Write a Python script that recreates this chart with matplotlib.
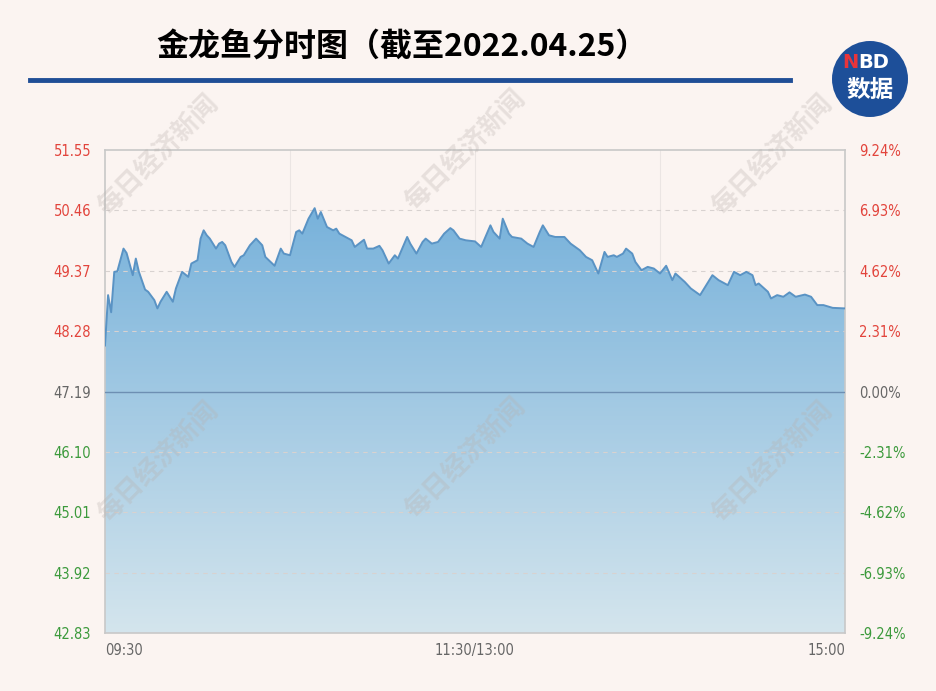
import numpy as np
import matplotlib
matplotlib.use("Agg")
import matplotlib.pyplot as plt
from matplotlib.patches import Circle, Polygon

plt.rcParams['font.family'] = ['Noto Sans CJK SC', 'DejaVu Sans']

# minutes since 09:30 (lunch break removed, 240 trading minutes)
minutes = [0, 1, 2, 3, 4, 6, 7, 9, 10, 11, 13, 14, 16, 17, 18, 20, 22, 23, 25, 27,
           28, 30, 31, 32, 33, 34, 36, 37, 38, 39, 41, 42, 44, 45, 47, 49, 51, 52, 55, 57,
           58, 60, 62, 63, 64, 66, 68, 69, 70, 72, 74, 75, 76, 78, 80, 81, 84, 85, 87, 89,
           90, 92, 94, 95, 98, 99, 101, 103, 104, 106, 108, 110, 112, 113, 115, 117, 120, 122, 125, 126,
           128, 129, 131, 132, 135, 137, 139, 141, 142, 144, 146, 149, 151, 154, 156, 158, 160, 162, 163, 165,
           166, 168, 169, 171, 172, 174, 176, 178, 180, 182, 184, 185, 188, 190, 193, 195, 197, 199, 202, 204,
           206, 208, 210, 211, 212, 215, 216, 218, 220, 222, 224, 227, 229, 231, 233, 236, 240]
prices = [48.02, 48.93, 48.62, 49.35, 49.36, 49.77, 49.69, 49.29, 49.59, 49.35, 49.03, 48.99, 48.84, 48.69, 48.81, 48.99, 48.81, 49.05, 49.35, 49.26,
          49.50, 49.56, 49.95, 50.10, 50.01, 49.95, 49.77, 49.86, 49.89, 49.83, 49.53, 49.44, 49.62, 49.65, 49.83, 49.95, 49.83, 49.62, 49.46, 49.77,
          49.68, 49.65, 50.07, 50.10, 50.04, 50.31, 50.50, 50.31, 50.43, 50.16, 50.10, 50.13, 50.04, 49.98, 49.92, 49.80, 49.93, 49.77, 49.77, 49.82,
          49.74, 49.50, 49.65, 49.59, 49.98, 49.86, 49.68, 49.89, 49.95, 49.86, 49.89, 50.04, 50.14, 50.10, 49.95, 49.92, 49.90, 49.80, 50.19, 50.07,
          49.95, 50.31, 50.04, 49.98, 49.95, 49.86, 49.80, 50.07, 50.19, 50.01, 49.98, 49.98, 49.86, 49.74, 49.62, 49.56, 49.32, 49.71, 49.62, 49.65,
          49.62, 49.68, 49.77, 49.68, 49.53, 49.38, 49.44, 49.41, 49.32, 49.46, 49.20, 49.32, 49.17, 49.05, 48.93, 49.11, 49.29, 49.20, 49.11, 49.35,
          49.29, 49.35, 49.29, 49.11, 49.14, 48.99, 48.87, 48.93, 48.90, 48.98, 48.90, 48.94, 48.90, 48.75, 48.75, 48.70, 48.69]

pre_close = 47.19
price_ticks = [42.83, 43.92, 45.01, 46.10, 47.19, 48.28, 49.37, 50.46, 51.55]
pct_labels = ["-9.24%", "-6.93%", "-4.62%", "-2.31%", "0.00%", "2.31%", "4.62%", "6.93%", "9.24%"]
x_ticks = [0, 120, 240]
x_labels = ["09:30", "11:30/13:00", "15:00"]
title = "金龙鱼分时图（截至2022.04.25）"
watermark = "每日经济新闻"

bg = "#fbf4f1"
red = "#e2443c"
green = "#3c9a3c"
grey = "#666666"
narrow = dict(family="DejaVu Sans", stretch="condensed")

fig = plt.figure(figsize=(9.37, 6.91), dpi=100, facecolor=bg)
ax = fig.add_axes([105/937, (691-633)/691, 740/937, (633-150)/691])
ax.set_facecolor(bg)
ax.set_xlim(0, 240)
ax.set_ylim(price_ticks[0], price_ticks[-1])

# gradient fill under the line
x = np.array(minutes, dtype=float)
y = np.array(prices)
verts = np.column_stack([np.r_[x, x[-1], x[0]], np.r_[y, price_ticks[0], price_ticks[0]]])
poly = Polygon(verts, closed=True, facecolor="none", edgecolor="none")
ax.add_patch(poly)
top = np.array([120, 178, 219]) / 255
bot = np.array([212, 229, 237]) / 255
t = np.linspace(0, 1, 256)[:, None]
grad = (top * (1 - t) + bot * t).reshape(256, 1, 3)
im = ax.imshow(grad, extent=[0, 240, price_ticks[0], max(prices)], aspect="auto",
               origin="upper", zorder=1, interpolation="bilinear")
im.set_clip_path(poly)
ax.plot(x, y, color="#5a93c4", lw=1.4, zorder=3)

# grid
for p in price_ticks[1:-1]:
    if p == pre_close:
        ax.axhline(p, color="#6d8fb3", lw=1.0, zorder=4)
    else:
        ax.axhline(p, color="#d8d2d0", lw=0.8, ls=(0, (4, 4)), zorder=2)
for m in [60, 120, 180]:
    ax.axvline(m, color="#ebe5e3", lw=0.8, zorder=0.5)

for s in ax.spines.values():
    s.set_color("#c8c8c8")
    s.set_linewidth(1.2)

ax.set_yticks(price_ticks)
ax.set_yticklabels([f"{p:.2f}" for p in price_ticks], **narrow)
ax.tick_params(axis="y", length=0, pad=10, labelsize=10.5)
for lbl, p in zip(ax.get_yticklabels(), price_ticks):
    lbl.set_color(red if p > pre_close else (green if p < pre_close else grey))

ax2 = ax.twinx()
ax2.set_ylim(price_ticks[0], price_ticks[-1])
ax2.set_yticks(price_ticks)
ax2.set_yticklabels(pct_labels, **narrow)
ax2.tick_params(axis="y", length=0, pad=10, labelsize=10.5)
for s in ax2.spines.values():
    s.set_visible(False)
for lbl, p in zip(ax2.get_yticklabels(), price_ticks):
    lbl.set_color(red if p > pre_close else (green if p < pre_close else grey))

ax.set_xticks(x_ticks)
ax.set_xticklabels(x_labels, **narrow)
ax.tick_params(axis="x", length=0, pad=7, labelsize=10.5, colors=grey)
xl = ax.get_xticklabels()
xl[0].set_ha("left")
xl[-1].set_ha("right")

# title, rule and badge
fig.text(402/937, 1 - 48/691, title, fontsize=23, fontweight="heavy", ha="center", va="center")
fig.add_artist(plt.Line2D([30/937, 790/937], [1 - 80/691, 1 - 80/691], color="#1f4e96", lw=3.5))
fig.add_artist(Circle((8.70, (691 - 79) / 100), 0.38, transform=fig.dpi_scale_trans,
                      facecolor="#1d4f99", edgecolor="none"))
fig.text(858/937, 1 - 62/691, "N", color="#e8343a", fontsize=14, fontweight="bold",
         ha="right", va="center", family="DejaVu Sans")
fig.text(858/937, 1 - 62/691, "BD", color="white", fontsize=14, fontweight="bold",
         ha="left", va="center", family="DejaVu Sans")
fig.text(870/937, 1 - 90/691, "数据", color="white", fontsize=17, fontweight="heavy",
         ha="center", va="center")

# watermarks
for cx, cy in [(158, 155), (465, 150), (772, 155), (158, 462), (465, 458), (772, 462)]:
    fig.text(cx/937, 1 - cy/691, watermark, fontsize=19, rotation=45, color="#b8b0ac",
             alpha=0.3, ha="center", va="center", fontweight="bold", zorder=10)

fig.savefig("out.png", dpi=100, facecolor=bg)
